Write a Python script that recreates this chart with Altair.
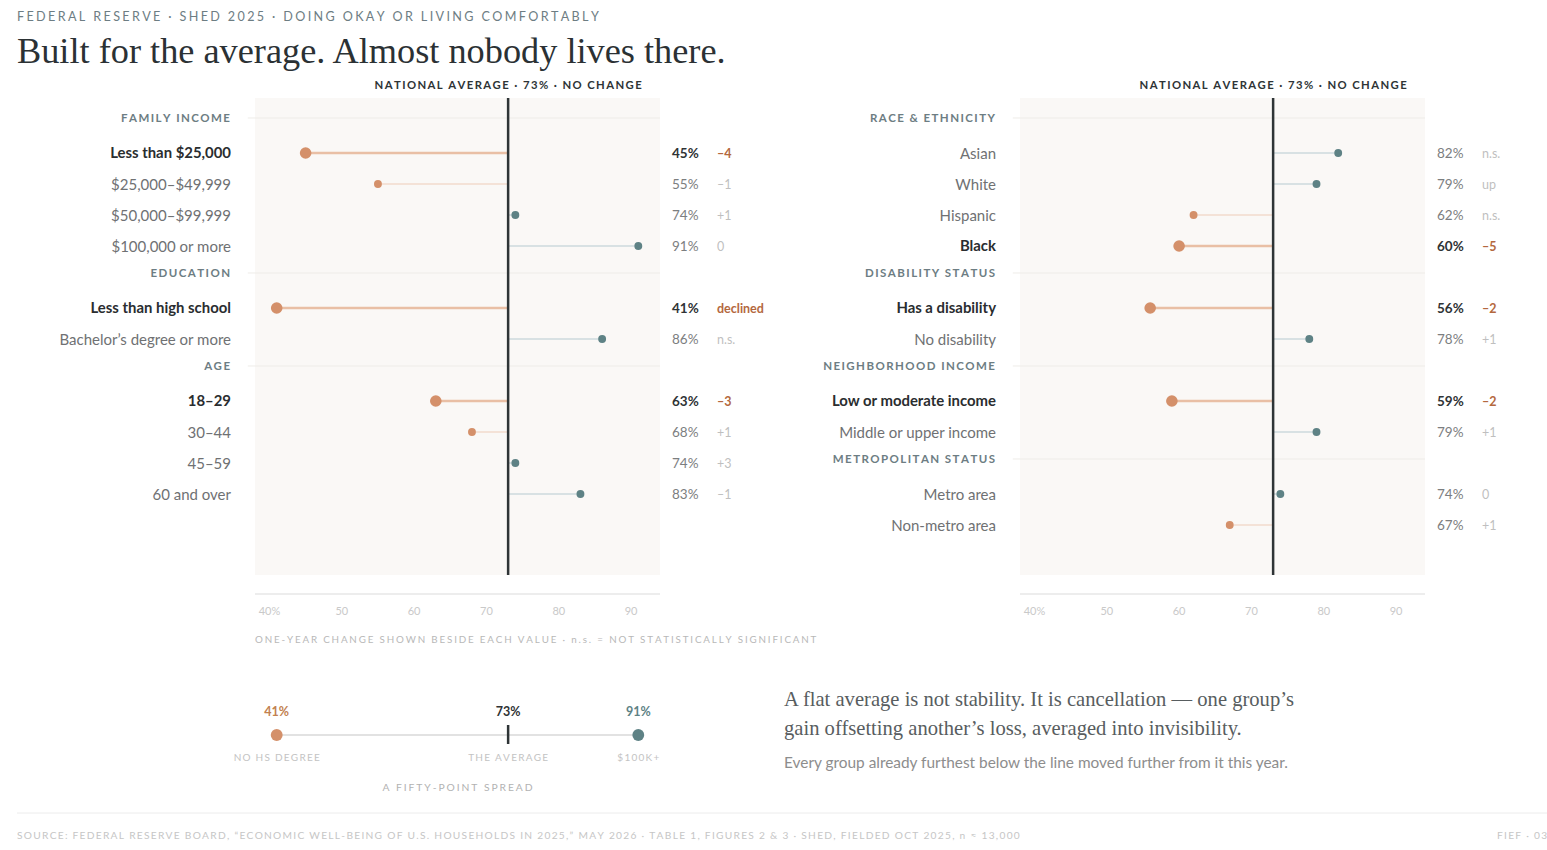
import altair as alt
import pandas as pd

# ---------------- data ----------------
AVERAGE = 73

left_groups = ["FAMILY INCOME", "EDUCATION", "AGE"]
left_group_sizes = [4, 2, 4]
left_labels = ["Less than $25,000", "$25,000–$49,999", "$50,000–$99,999", "$100,000 or more",
               "Less than high school", "Bachelor’s degree or more",
               "18–29", "30–44", "45–59", "60 and over"]
left_values = [45, 55, 74, 91, 41, 86, 63, 68, 74, 83]
left_changes = ["–4", "–1", "+1", "0", "declined", "n.s.", "–3", "+1", "+3", "–1"]
left_flagged = [True, False, False, False, True, False, True, False, False, False]

right_groups = ["RACE & ETHNICITY", "DISABILITY STATUS", "NEIGHBORHOOD INCOME", "METROPOLITAN STATUS"]
right_group_sizes = [4, 2, 2, 2]
right_labels = ["Asian", "White", "Hispanic", "Black", "Has a disability", "No disability",
                "Low or moderate income", "Middle or upper income", "Metro area", "Non-metro area"]
right_values = [82, 79, 62, 60, 56, 78, 59, 79, 74, 67]
right_changes = ["n.s.", "up", "n.s.", "–5", "–2", "+1", "–2", "+1", "0", "+1"]
right_flagged = [False, False, False, True, True, False, True, False, False, False]

axis_ticks = [40, 50, 60, 70, 80, 90]
axis_tick_labels = ["40%", "50", "60", "70", "80", "90"]

spread_values = [41, 73, 91]
spread_labels = ["NO HS DEGREE", "THE AVERAGE", "$100K+"]

# ---------------- styling / layout ----------------
SANS = "Lato"
SERIF = "Liberation Serif"
ORANGE = "#d4906a"
TEAL = "#5e8285"
DARK = "#2e3436"
HEAD = "#6d7d83"
BG = "#faf8f6"

X_DOMAIN = [38, 94]
LEFT_RANGE = [255, 660]
RIGHT_RANGE = [1020, 1425]
Y_DOMAIN = [-0.774, 14.613]
Y_RANGE = [98, 575]

THIN = "\u2009"
WIDE = "\u2009\u200a"


def spaced(s, sep=THIN):
    return sep.join(s)


def build(groups, sizes, labels, values, changes, flagged):
    rows, heads = [], []
    slot, i = 0, 0
    for g, n in zip(groups, sizes):
        heads.append({"slot": slot, "head": spaced(g)})
        slot += 1
        for _ in range(n):
            v = values[i]
            side = "below" if v < AVERAGE else "above"
            rows.append({"slot": slot, "label": labels[i], "value": v, "avg": AVERAGE,
                         "pct": f"{v}%", "change": changes[i], "flag": flagged[i],
                         "side": side, "tone": side + ("_bold" if flagged[i] else "")})
            slot += 1
            i += 1
    return pd.DataFrame(rows), pd.DataFrame(heads)


left_rows, left_heads = build(left_groups, left_group_sizes, left_labels, left_values,
                              left_changes, left_flagged)
right_rows, right_heads = build(right_groups, right_group_sizes, right_labels, right_values,
                                right_changes, right_flagged)

one = pd.DataFrame({"k": [0]})
ticks_df = pd.DataFrame({"tick": axis_ticks, "text": axis_tick_labels})


def panel(rows, heads, x_range, with_extras=False):
    xs = alt.Scale(domain=X_DOMAIN, range=x_range, nice=False, zero=False)
    ys = alt.Scale(domain=Y_DOMAIN, range=Y_RANGE, nice=False, zero=False)

    def xd(v):
        return alt.XDatum(v, type="quantitative", scale=xs, axis=None)

    def yd(v):
        return alt.YDatum(v, type="quantitative", scale=ys, axis=None)

    Y = alt.Y("slot:Q", scale=ys, axis=None)
    flag = alt.datum.flag
    strong = rows[rows.flag]
    plain = rows[~rows.flag]

    bg = alt.Chart(one).mark_rect(color=BG).encode(
        x=xd(X_DOMAIN[0]), x2=alt.X2Datum(X_DOMAIN[1]),
        y=yd(Y_DOMAIN[0]), y2=alt.Y2Datum(Y_DOMAIN[1]))

    head_lines = alt.Chart(heads).mark_rule(color="#eeece8", strokeWidth=1, yOffset=-4).encode(
        x=xd(X_DOMAIN[0] - 1), x2=alt.X2Datum(X_DOMAIN[1]), y=Y)

    head_text = alt.Chart(heads).mark_text(
        align="right", baseline="middle", dx=-25, dy=-3, font=SANS, fontSize=11.5,
        fontWeight="bold", color=HEAD).encode(x=xd(X_DOMAIN[0]), y=Y, text="head:N")

    stems = alt.Chart(rows).mark_rule().encode(
        x=alt.X("value:Q", scale=xs, axis=None), x2="avg:Q", y=Y,
        color=alt.Color("tone:N", legend=None, scale=alt.Scale(
            domain=["below_bold", "below", "above_bold", "above"],
            range=["#e9bfa5", "#f2dbcd", "#bfd0d2", "#cddadc"])),
        strokeWidth=alt.when(flag).then(alt.value(2.5)).otherwise(alt.value(1.6)))

    avg_line = alt.Chart(one).mark_rule(color=DARK, strokeWidth=2.5).encode(
        x=xd(AVERAGE), y=yd(Y_DOMAIN[0]), y2=alt.Y2Datum(Y_DOMAIN[1]))

    dots = alt.Chart(rows).mark_circle(opacity=1).encode(
        x=alt.X("value:Q", scale=xs, axis=None), y=Y,
        color=alt.Color("side:N", legend=None,
                        scale=alt.Scale(domain=["below", "above"], range=[ORANGE, TEAL])),
        size=alt.when(flag).then(alt.value(135)).otherwise(alt.value(62)))

    def row_text(df, field, weight, color, dx, align, size, xv):
        return alt.Chart(df).mark_text(align=align, baseline="middle", dx=dx, dy=1, font=SANS,
                                       fontSize=size, fontWeight=weight, color=color).encode(
            x=xd(xv), y=Y, text=f"{field}:N")

    texts = [
        row_text(strong, "label", "bold", "#2a2d2f", -24, "right", 14.9, X_DOMAIN[0]),
        row_text(plain, "label", "normal", "#6f7173", -24, "right", 15, X_DOMAIN[0]),
        row_text(strong, "pct", "bold", "#2f3335", 12, "left", 13.5, X_DOMAIN[1]),
        row_text(plain, "pct", "normal", "#7c7e80", 12, "left", 13.5, X_DOMAIN[1]),
        row_text(strong, "change", "bold", "#b4683e", 57, "left", 12.5, X_DOMAIN[1]),
        row_text(plain, "change", "normal", "#bfbfbf", 57, "left", 12.5, X_DOMAIN[1]),
    ]

    top = alt.Chart(one).mark_text(align="center", baseline="middle", font=SANS, fontSize=11.3,
                                   fontWeight="bold", color=DARK,
                                   text=spaced(f"NATIONAL AVERAGE · {AVERAGE}% · NO CHANGE")).encode(
        x=xd(AVERAGE), y=alt.value(86))

    axis_line = alt.Chart(one).mark_rule(color="#e7e7e7", strokeWidth=1.5).encode(
        x=xd(X_DOMAIN[0]), x2=alt.X2Datum(X_DOMAIN[1]), y=alt.value(594))

    axis_text = alt.Chart(ticks_df).mark_text(align="center", baseline="middle", font=SANS,
                                              fontSize=11, color="#c9c9c9").encode(
        x=alt.X("tick:Q", scale=xs, axis=None), y=alt.value(612), text="text:N")

    layers = [bg, head_lines, head_text, stems, avg_line, dots] + texts + [top, axis_line, axis_text]

    if with_extras:
        note = alt.Chart(one).mark_text(
            align="left", baseline="middle", font=SANS, fontSize=9.8, color="#b8b8b8",
            text=spaced("ONE-YEAR CHANGE SHOWN BESIDE EACH VALUE · n.s. = NOT STATISTICALLY SIGNIFICANT",
                        WIDE)
        ).encode(x=xd(X_DOMAIN[0]), y=alt.value(640))

        lo, hi = min(spread_values), max(spread_values)
        roles = ["low" if v < AVERAGE else ("high" if v > AVERAGE else "average")
                 for v in spread_values]
        sp = pd.DataFrame({"value": spread_values, "label": [spaced(s) for s in spread_labels],
                           "pct": [f"{v}%" for v in spread_values], "role": roles})
        rng = pd.DataFrame({"lo": [lo], "hi": [hi]})

        sp_line = alt.Chart(rng).mark_rule(color="#d9d9d9", strokeWidth=1.5).encode(
            x=alt.X("lo:Q", scale=xs, axis=None), x2="hi:Q", y=alt.value(735))
        ends = sp[sp.role != "average"]
        mids = sp[sp.role == "average"]
        sp_dots = alt.Chart(ends).mark_circle(opacity=1, size=140).encode(
            x=alt.X("value:Q", scale=xs, axis=None), y=alt.value(735),
            color=alt.Color("role:N", legend=None,
                            scale=alt.Scale(domain=["low", "high"], range=[ORANGE, TEAL])))
        sp_tick = alt.Chart(mids).mark_rule(color=DARK, strokeWidth=2.5).encode(
            x=alt.X("value:Q", scale=xs, axis=None), y=alt.value(725), y2=alt.value(744))
        sp_pct = alt.Chart(sp).mark_text(align="center", baseline="middle", font=SANS,
                                         fontSize=12.5, fontWeight="bold").encode(
            x=alt.X("value:Q", scale=xs, axis=None), y=alt.value(712), text="pct:N",
            color=alt.Color("role:N", legend=None, scale=alt.Scale(
                domain=["low", "average", "high"], range=["#c2814f", "#2f3335", TEAL])))
        sp_lab = alt.Chart(sp).mark_text(align="center", baseline="middle", font=SANS,
                                         fontSize=10, color="#c3c3c3").encode(
            x=alt.X("value:Q", scale=xs, axis=None), y=alt.value(758), text="label:N")
        sp_title = alt.Chart(rng).mark_text(
            align="center", baseline="middle", font=SANS, fontSize=10.3, color="#b2b2b2",
            text=spaced("A FIFTY-POINT SPREAD", WIDE)).encode(
            x=alt.XDatum((lo + hi) / 2, type="quantitative", scale=xs, axis=None),
            y=alt.value(788))
        layers += [note, sp_line, sp_dots, sp_tick, sp_pct, sp_lab, sp_title]

    return alt.layer(*layers).resolve_scale(color="independent")


left = panel(left_rows, left_heads, LEFT_RANGE, with_extras=True)
right = panel(right_rows, right_heads, RIGHT_RANGE)


def txt(text, x, y, baseline="middle", **kw):
    return alt.Chart(one).mark_text(text=text, align="left", baseline=baseline, **kw).encode(
        x=alt.value(x), y=alt.value(y))


globals_layer = alt.layer(
    txt(spaced("FEDERAL RESERVE · SHED 2025 · DOING OKAY OR LIVING COMFORTABLY", WIDE), 17, 17,
        font=SANS, fontSize=12.6, color=HEAD),
    txt("Built for the average. Almost nobody lives there.", 17, 63, baseline="alphabetic",
        font=SERIF, fontSize=36.3, color="#2b3134"),
    txt("A flat average is not stability. It is cancellation — one group’s", 784, 700,
        font=SERIF, fontSize=20.6, color="#585d60"),
    txt("gain offsetting another’s loss, averaged into invisibility.", 784, 729,
        font=SERIF, fontSize=20.6, color="#585d60"),
    txt("Every group already furthest below the line moved further from it this year.", 784, 763,
        font=SANS, fontSize=15.4, color="#8d8d8d"),
    alt.Chart(one).mark_rule(color="#ececec", strokeWidth=1).encode(
        x=alt.value(17), x2=alt.value(1547), y=alt.value(813)),
    txt(spaced("SOURCE: FEDERAL RESERVE BOARD, “ECONOMIC WELL-BEING OF U.S. HOUSEHOLDS IN 2025,” "
               "MAY 2026 · TABLE 1, FIGURES 2 & 3 · SHED, FIELDED OCT 2025, n ≈ 13,000"), 17, 836,
        font=SANS, fontSize=10.2, color="#c6c6c6"),
    txt(spaced("FIEF · 03"), 1497, 836, font=SANS, fontSize=10.2, color="#c6c6c6"),
)

chart = alt.layer(left, right, globals_layer).resolve_scale(
    x="independent", y="independent", color="independent"
).properties(
    width=1547, height=850, autosize=alt.AutoSizeParams(type="none"), padding=0,
    background="white"
).configure_view(stroke=None)

chart.save("out.html", embed_options={"renderer": "svg", "actions": False})
